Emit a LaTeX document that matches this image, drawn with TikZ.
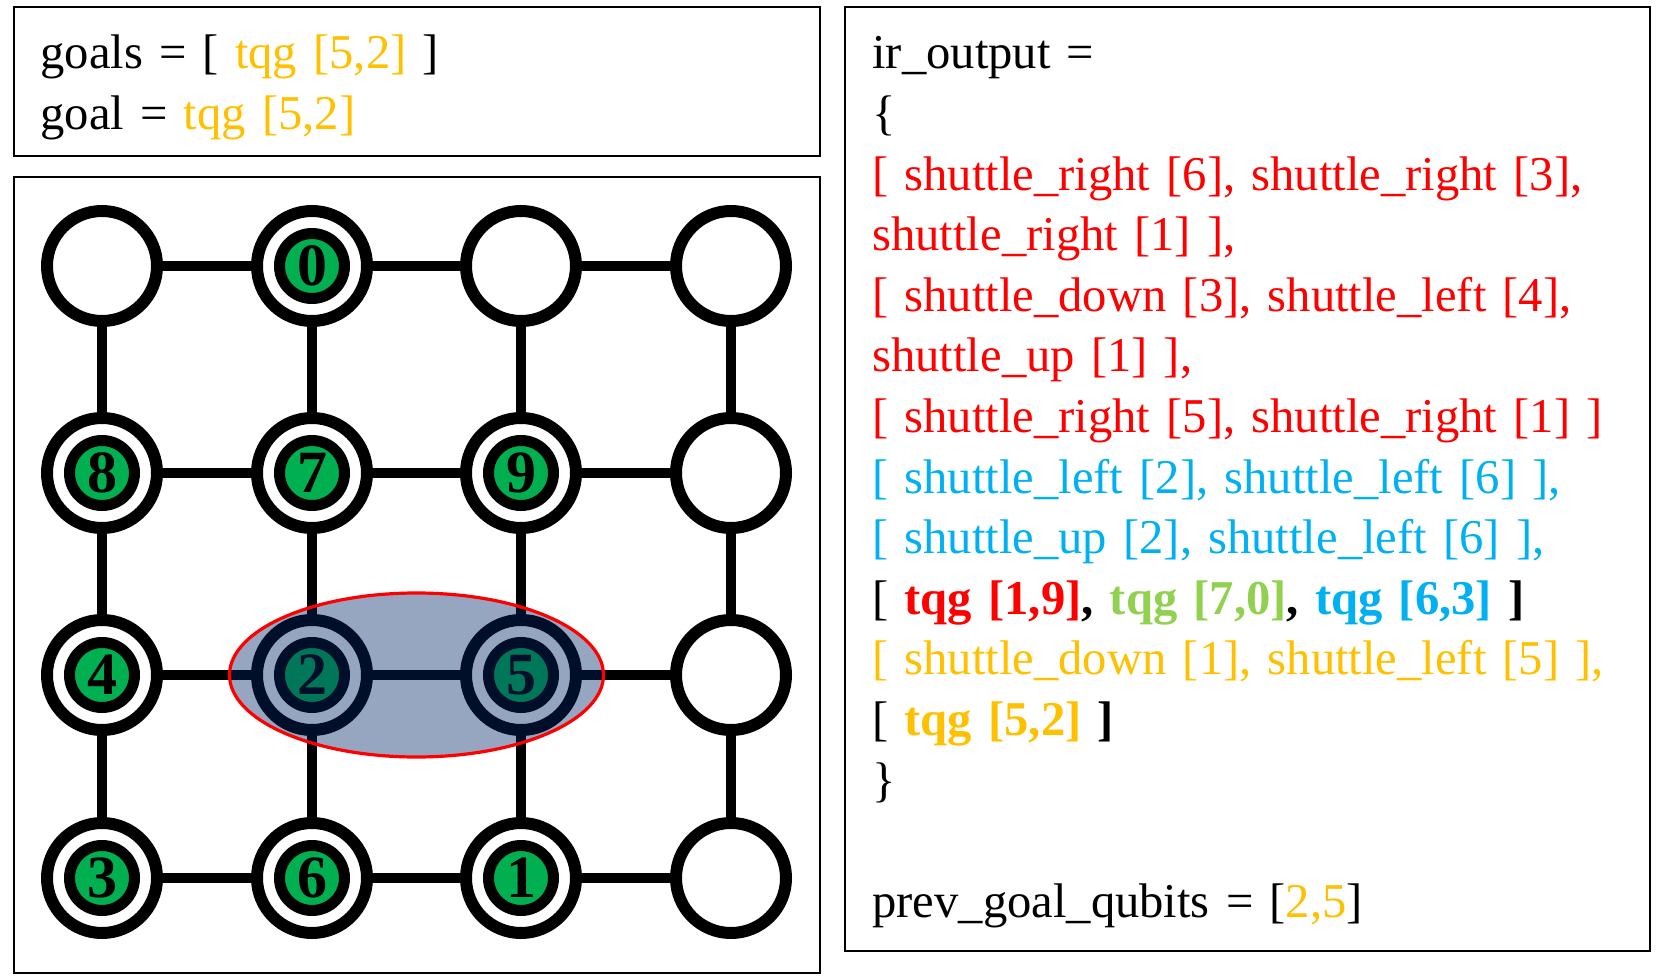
\documentclass[tikz,border=0pt]{standalone}
\usepackage{fontspec}
\setmainfont{Liberation Serif}
\usetikzlibrary{calc}

\definecolor{qgreen}{RGB}{0,176,80}
\definecolor{qred}{RGB}{255,0,0}
\definecolor{qblue}{RGB}{0,176,240}
\definecolor{qlime}{RGB}{146,208,80}
\definecolor{qgold}{RGB}{255,192,0}
\definecolor{qnavy}{RGB}{0,38,101}

\begin{document}
\begin{tikzpicture}[x=0.5pt, y=-0.5pt,
  trap/.style={circle, draw, line width=6pt, fill=white, minimum size=55pt, inner sep=0pt},
  ion/.style={circle, draw, line width=5.5pt, fill=qgreen, minimum size=32.5pt, inner sep=0pt,
              font=\fontsize{30}{30}\selectfont\bfseries},
  link/.style={line width=4.75pt},
  frame/.style={draw, line width=1.25pt},
  code/.style={anchor=base west, inner sep=0pt, text width=#1, align=left,
               font=\fontsize{24.3}{30.3}\selectfont}]

  \useasboundingbox (0,0) rectangle (1662,979);

  \draw[frame] (14,7) rectangle (820,156);
  \draw[frame] (14,177) rectangle (820,973);
  \draw[frame] (845,7) rectangle (1650,951);

  % trap grid
  \foreach \r/\y in {0/266,1/473,2/675,3/878}
    \foreach \c/\x in {0/102,1/312,2/521,3/731}
      \node[trap] (t\r\c) at (\x,\y) {};

  \foreach \r in {0,...,3} {
    \foreach \c [evaluate=\c as \d using int(\c+1)] in {0,1,2} {
      \draw[link] (t\r\c) -- (t\r\d);
      \draw[link] (t\c\r) -- (t\d\r);
    }
  }

  % qubits
  \foreach \r/\c/\q in {0/1/0, 1/0/8, 1/1/7, 1/2/9, 2/0/4, 2/1/2, 2/2/5, 3/0/3, 3/1/6, 3/2/1}
    \node[ion] (q\q) at (t\r\c) {\q};

  \draw[draw=qred, line width=1.6pt, fill=qnavy, fill opacity=0.41]
    ($(q2)!0.5!(q5)$) ellipse [x radius=93.5pt, y radius=41pt];

  \node[code=380pt] (goals) at (40,69) {goals = [ \textcolor{qgold}{tqg [5,2]} ]\\
    goal = \textcolor{qgold}{tqg [5,2]}};

  \node[code=380pt] (ir) at (872,69) {ir\_output =\\
    \{\\
    \textcolor{qred}{[ shuttle\_right [6], shuttle\_right [3],}\\
    \textcolor{qred}{shuttle\_right [1] ],}\\
    \textcolor{qred}{[ shuttle\_down [3], shuttle\_left [4],}\\
    \textcolor{qred}{shuttle\_up [1] ],}\\
    \textcolor{qred}{[ shuttle\_right [5], shuttle\_right [1] ]}\\
    \textcolor{qblue}{[ shuttle\_left [2], shuttle\_left [6] ],}\\
    \textcolor{qblue}{[ shuttle\_up [2], shuttle\_left [6] ],}\\
    {}[ \textbf{\textcolor{qred}{tqg [1,9]}, \textcolor{qlime}{tqg [7,0]}, \textcolor{qblue}{tqg [6,3]} ]}\\
    \textcolor{qgold}{[ shuttle\_down [1], shuttle\_left [5] ],}\\
    {}[ \textbf{\textcolor{qgold}{tqg [5,2]} ]}\\
    \}\\[30.3pt]
    prev\_goal\_qubits = [\textcolor{qgold}{2,5}]};

\end{tikzpicture}
\end{document}
